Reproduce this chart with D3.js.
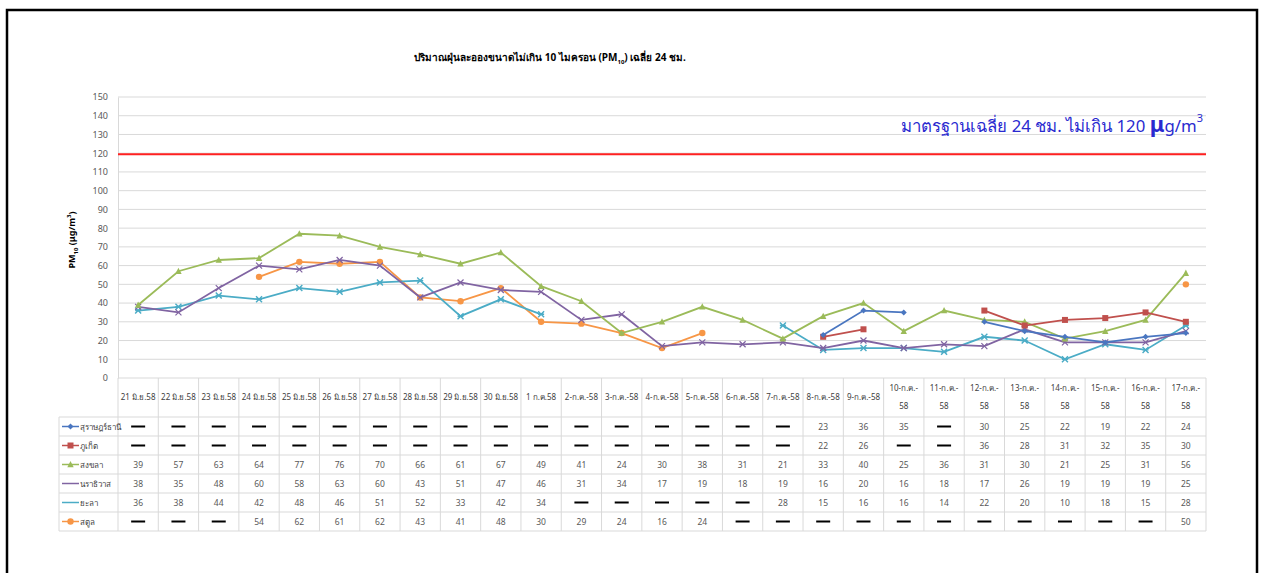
<!DOCTYPE html>
<html>
<head>
<meta charset="utf-8">
<script src="https://cdn.jsdelivr.net/npm/d3@7"></script>
<style>
  body { margin: 0; background: #fff; }
  svg text { font-family: "Noto Sans", "DejaVu Sans", sans-serif; }
</style>
</head>
<body>
<svg id="chart" width="1261" height="573"></svg>
<script>
// categories (two-line labels are split with |)
var dates = ["21 มิ.ย.58", "22 มิ.ย.58", "23 มิ.ย.58", "24 มิ.ย.58", "25 มิ.ย.58", "26 มิ.ย.58",
    "27 มิ.ย.58", "28 มิ.ย.58", "29 มิ.ย.58", "30 มิ.ย.58", "1 ก.ค.58", "2-ก.ค.-58", "3-ก.ค.-58",
    "4-ก.ค.-58", "5-ก.ค.-58", "6-ก.ค.-58", "7-ก.ค.-58", "8-ก.ค.-58", "9-ก.ค.-58",
    "10-ก.ค.-|58", "11-ก.ค.-|58", "12-ก.ค.-|58", "13-ก.ค.-|58", "14-ก.ค.-|58", "15-ก.ค.-|58",
    "16-ก.ค.-|58", "17-ก.ค.-|58"];

var N = null;
var suratthani = [N, N, N, N, N, N, N, N, N, N, N, N, N, N, N, N, N, 23, 36, 35, N, 30, 25, 22, 19, 22, 24];
var phuket     = [N, N, N, N, N, N, N, N, N, N, N, N, N, N, N, N, N, 22, 26, N, N, 36, 28, 31, 32, 35, 30];
var songkhla   = [39, 57, 63, 64, 77, 76, 70, 66, 61, 67, 49, 41, 24, 30, 38, 31, 21, 33, 40, 25, 36, 31, 30, 21, 25, 31, 56];
var narathiwat = [38, 35, 48, 60, 58, 63, 60, 43, 51, 47, 46, 31, 34, 17, 19, 18, 19, 16, 20, 16, 18, 17, 26, 19, 19, 19, 25];
var yala       = [36, 38, 44, 42, 48, 46, 51, 52, 33, 42, 34, N, N, N, N, N, 28, 15, 16, 16, 14, 22, 20, 10, 18, 15, 28];
var satun      = [N, N, N, 54, 62, 61, 62, 43, 41, 48, 30, 29, 24, 16, 24, N, N, N, N, N, N, N, N, N, N, N, 50];

var seriesNames = ["สุราษฎร์ธานี", "ภูเก็ต", "สงขลา", "นราธิวาส", "ยะลา", "สตูล"];
var seriesValues = [suratthani, phuket, songkhla, narathiwat, yala, satun];
var seriesColors = ["#4a76c0", "#c0504d", "#9bbb59", "#8064a2", "#4bacc6", "#f79646"];
var seriesMarkers = ["diamond", "square", "triangle", "cross", "star", "circle"];

var yTicks = d3.range(0, 151, 10);
var standardValue = 120;

var svg = d3.select("#chart");

// outer frame
svg.append("rect").attr("x", 7).attr("y", 10).attr("width", 1250).attr("height", 700)
    .attr("fill", "none").attr("stroke", "#000").attr("stroke-width", 2.5);

var x = d3.scaleBand().domain(dates).range([118, 1206]);
var y = d3.scaleLinear().domain([0, 150]).range([378, 97]);

// gridlines
svg.append("g").selectAll("line").data(yTicks.slice(1)).enter().append("line")
    .attr("x1", 118).attr("x2", 1206)
    .attr("y1", function(d) { return y(d); }).attr("y2", function(d) { return y(d); })
    .attr("stroke", "#d9d9d9").attr("stroke-width", 1);

// y axis
var yAxis = svg.append("g").attr("transform", "translate(118,0)")
    .call(d3.axisLeft(y).tickValues(yTicks).tickSize(0).tickPadding(10));
yAxis.select(".domain").attr("stroke", "#d9d9d9");
yAxis.selectAll("text").attr("fill", "#595959").style("font-size", "9px");

// y axis title
var yt = svg.append("text").attr("transform", "translate(75,240) rotate(-90)")
    .attr("text-anchor", "middle").style("font-size", "9px").style("font-weight", "bold").attr("fill", "#000");
yt.append("tspan").text("PM");
yt.append("tspan").attr("dy", 3).style("font-size", "6px").text("10");
yt.append("tspan").attr("dy", -3).text(" (μg/m");
yt.append("tspan").attr("dy", -4).style("font-size", "6px").text("3");
yt.append("tspan").attr("dy", 4).text(")");

// title
var tt = svg.append("text").attr("x", 550).attr("y", 61).attr("text-anchor", "middle")
    .style("font-size", "10px").style("font-weight", "bold").attr("fill", "#000");
tt.append("tspan").text("ปริมาณฝุ่นละอองขนาดไม่เกิน 10 ไมครอน (PM");
tt.append("tspan").attr("dy", 3).style("font-size", "6px").text("10");
tt.append("tspan").attr("dy", -3).text(") เฉลี่ย 24 ชม.");

// standard line
svg.append("line").attr("x1", 118).attr("x2", 1206)
    .attr("y1", y(standardValue) + 1).attr("y2", y(standardValue) + 1)
    .attr("stroke", "#ff2020").attr("stroke-width", 2);

var st = svg.append("text").attr("x", 1203).attr("y", 132).attr("text-anchor", "end")
    .style("font-size", "16.8px").attr("fill", "#2a2ad0");
st.append("tspan").text("มาตรฐานเฉลี่ย 24 ชม. ไม่เกิน 120 ");
st.append("tspan").style("font-size", "22px").style("font-weight", "bold").text("μ");
st.append("tspan").text("g/m");
st.append("tspan").attr("dy", -10).style("font-size", "11px").text("3");

// marker drawing
function drawMarker(g, type, color, cx, cy) {
    var s = 3;
    if (type === "diamond") {
        g.append("path").attr("d", "M" + cx + "," + (cy - s) + "L" + (cx + s) + "," + cy + "L" + cx + "," + (cy + s) + "L" + (cx - s) + "," + cy + "Z")
            .attr("fill", color);
    } else if (type === "square") {
        g.append("rect").attr("x", cx - 3).attr("y", cy - 3).attr("width", 6).attr("height", 6).attr("fill", color);
    } else if (type === "triangle") {
        g.append("path").attr("d", "M" + cx + "," + (cy - 3.5) + "L" + (cx + 3.2) + "," + (cy + 2.8) + "L" + (cx - 3.2) + "," + (cy + 2.8) + "Z")
            .attr("fill", color);
    } else if (type === "cross") {
        g.append("path").attr("d", "M" + (cx - 3) + "," + (cy - 3) + "L" + (cx + 3) + "," + (cy + 3) + "M" + (cx + 3) + "," + (cy - 3) + "L" + (cx - 3) + "," + (cy + 3))
            .attr("stroke", color).attr("stroke-width", 1.2);
    } else if (type === "star") {
        g.append("path").attr("d", "M" + (cx - 3) + "," + (cy - 3) + "L" + (cx + 3) + "," + (cy + 3) + "M" + (cx + 3) + "," + (cy - 3) + "L" + (cx - 3) + "," + (cy + 3) + "M" + (cx - 3) + "," + cy + "L" + (cx + 3) + "," + cy)
            .attr("stroke", color).attr("stroke-width", 1.4);
    } else {
        g.append("circle").attr("cx", cx).attr("cy", cy).attr("r", 3.2).attr("fill", color);
    }
}

var line = d3.line()
    .defined(function(d) { return d !== null; })
    .x(function(d, i) { return x(dates[i]) + x.bandwidth() / 2; })
    .y(function(d) { return y(d); });

// series (draw in reverse so the first series is on top)
for (var k = seriesValues.length - 1; k >= 0; k--) {
    var g = svg.append("g");
    g.append("path").datum(seriesValues[k]).attr("d", line)
        .attr("fill", "none").attr("stroke", seriesColors[k]).attr("stroke-width", 1.8);
    seriesValues[k].forEach(function(v, i) {
        if (v !== null) drawMarker(g, seriesMarkers[k], seriesColors[k], x(dates[i]) + x.bandwidth() / 2, y(v));
    });
}

// data table
var tableTop = 378, headerBottom = 417, rowH = 19, tableLeft = 59;
var tableBottom = headerBottom + rowH * seriesNames.length;
var tg = svg.append("g");

// horizontal lines
tg.append("line").attr("x1", 118).attr("x2", 1206).attr("y1", tableTop).attr("y2", tableTop).attr("stroke", "#d9d9d9");
for (var r = 0; r <= seriesNames.length; r++) {
    tg.append("line").attr("x1", tableLeft).attr("x2", 1206)
        .attr("y1", headerBottom + r * rowH).attr("y2", headerBottom + r * rowH).attr("stroke", "#d9d9d9");
}
// vertical lines
tg.append("line").attr("x1", tableLeft).attr("x2", tableLeft).attr("y1", headerBottom).attr("y2", tableBottom).attr("stroke", "#d9d9d9");
dates.forEach(function(d) {
    tg.append("line").attr("x1", x(d)).attr("x2", x(d)).attr("y1", tableTop).attr("y2", tableBottom).attr("stroke", "#d9d9d9");
});
tg.append("line").attr("x1", 1206).attr("x2", 1206).attr("y1", tableTop).attr("y2", tableBottom).attr("stroke", "#d9d9d9");

// header labels
dates.forEach(function(d) {
    var parts = d.split("|");
    var cx = x(d) + x.bandwidth() / 2;
    if (parts.length === 1) {
        tg.append("text").attr("x", cx).attr("y", 400).attr("text-anchor", "middle")
            .style("font-size", "8px").attr("fill", "#404040").text(parts[0]);
    } else {
        tg.append("text").attr("x", cx).attr("y", 391).attr("text-anchor", "middle")
            .style("font-size", "8px").attr("fill", "#404040").text(parts[0]);
        tg.append("text").attr("x", cx).attr("y", 409).attr("text-anchor", "middle")
            .style("font-size", "8px").attr("fill", "#404040").text(parts[1]);
    }
});

// rows
seriesNames.forEach(function(name, k) {
    var cy = headerBottom + k * rowH + rowH / 2;
    tg.append("line").attr("x1", 62).attr("x2", 79).attr("y1", cy).attr("y2", cy)
        .attr("stroke", seriesColors[k]).attr("stroke-width", 1.5);
    if (seriesMarkers[k] !== "cross" && seriesMarkers[k] !== "star") {
        drawMarker(tg, seriesMarkers[k], seriesColors[k], 70.5, cy);
    }
    tg.append("text").attr("x", 80).attr("y", cy + 3).style("font-size", "8px")
        .attr("fill", "#404040").text(name);
    seriesValues[k].forEach(function(v, i) {
        var cx = x(dates[i]) + x.bandwidth() / 2;
        if (v === null) {
            tg.append("line").attr("x1", cx - 7).attr("x2", cx + 7).attr("y1", cy).attr("y2", cy)
                .attr("stroke", "#000").attr("stroke-width", 2);
        } else {
            tg.append("text").attr("x", cx).attr("y", cy + 3).attr("text-anchor", "middle")
                .style("font-size", "8.5px").attr("fill", "#595959").text(v);
        }
    });
});
</script>
</body>
</html>
